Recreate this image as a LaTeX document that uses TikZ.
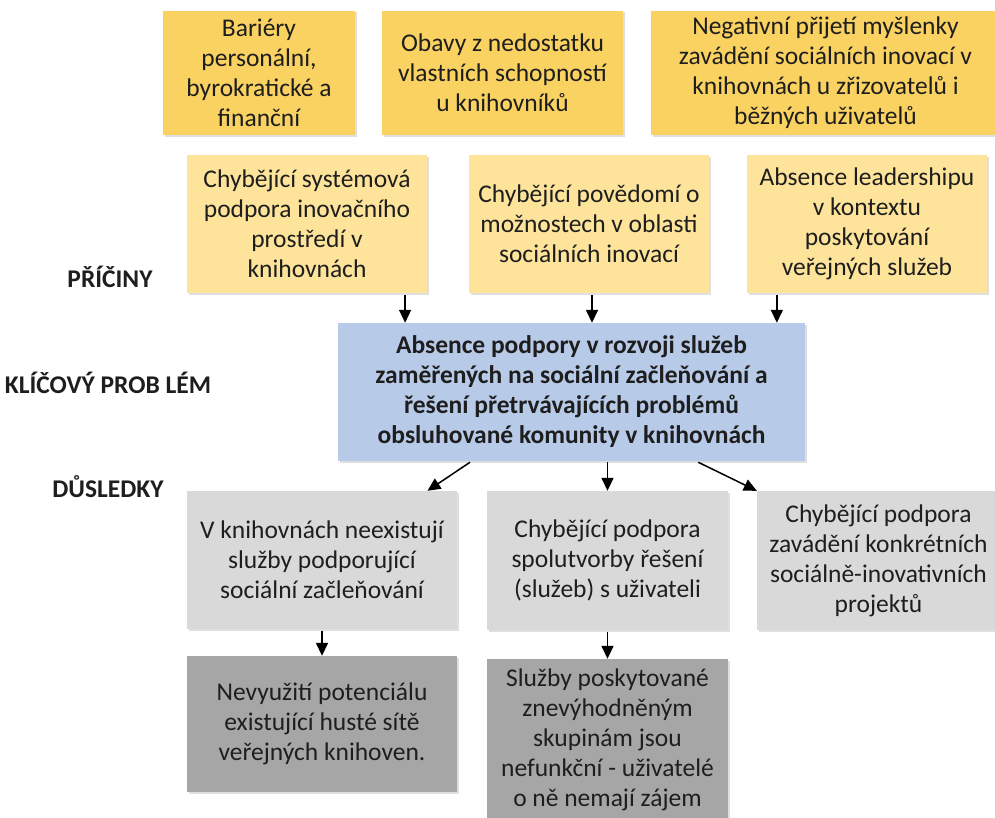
\documentclass[tikz,border=0pt]{standalone}
\usepackage{fontspec}
\setmainfont{Carlito}
\usetikzlibrary{arrows.meta,calc,shadows}
\definecolor{gold}{HTML}{FAD261}
\definecolor{lgold}{HTML}{FEE49A}
\definecolor{lblue}{HTML}{B7CAE8}
\definecolor{lgray}{HTML}{D9D9D9}
\definecolor{dgray}{HTML}{A6A6A6}
\definecolor{txt}{HTML}{1E1E1E}
\tikzset{
  box/.style={rectangle, inner sep=0pt, align=center, text=txt,
    font=\fontsize{25.5bp}{30bp}\selectfont,
    drop shadow={opacity=0.25, shadow xshift=1.5bp, shadow yshift=-1.5bp}},
  lbl/.style={font=\fontsize{25.5bp}{30bp}\selectfont\bfseries, text=txt, inner sep=0pt},
  arr/.style={-{Triangle[width=12bp,length=13bp]}, line width=1.5bp, draw=black},
}
\newcommand{\bx}[8]{% name, style, x1, y1, x2, y2, fill, text
  \node[box, fill=#7, minimum width={(#5-#3)*1bp}, minimum height={(#6-#4)*1bp}, #2]
    (#1) at ({(#3+#5)/2},{-(#4+#6)/2}) {#8};}
\begin{document}
\begin{tikzpicture}[x=1bp,y=1bp]
\useasboundingbox (0,0) rectangle (995,-818);
\clip (0,0) rectangle (995,-818);
\fill[white] (0,0) rectangle (995,-818);
% top row
\bx{b1}{}{163}{11}{355}{135}{gold}{Bariéry\\personální,\\byrokratické a\\finanční}
\bx{b2}{}{382}{11}{623}{135}{gold}{Obavy z nedostatku\\vlastních schopností\\u knihovníků}
\bx{b3}{}{651}{11}{1000}{135}{gold}{Negativní přijetí myšlenky\\zavádění sociálních inovací v\\knihovnách u zřizovatelů i\\běžných uživatelů}
% second row
\bx{c1}{}{187}{155}{427}{293}{lgold}{Chybějící systémová\\podpora inovačního\\prostředí v\\knihovnách}
\bx{c2}{}{469}{155}{709}{293}{lgold}{Chybějící povědomí o\\možnostech v oblasti\\sociálních inovací}
\bx{c3}{}{747}{155}{987}{293}{lgold}{Absence leadershipu\\v kontextu\\poskytování\\veřejných služeb}
% key problem
\bx{kp}{font=\fontsize{25.5bp}{30bp}\selectfont\bfseries}{338}{323}{805}{461}{lblue}{Absence podpory v rozvoji služeb\\zaměřených na sociální začleňování a\\řešení přetrvávajících problémů\\obsluhované komunity v knihovnách}
% consequences
\bx{d1}{}{187}{491}{457}{629}{lgray}{V knihovnách neexistují\\služby podporující\\sociální začleňování}
\bx{d2}{}{487}{491}{728}{630}{lgray}{Chybějící podpora\\spolutvorby řešení\\(služeb) s uživateli}
\bx{d3}{}{757}{491}{1000}{630}{lgray}{Chybějící podpora\\zavádění konkrétních\\sociálně-inovativních\\projektů}
\bx{e1}{}{187}{656}{457}{792}{dgray}{Nevyužití potenciálu\\existující husté sítě\\veřejných knihoven.}
\bx{e2}{}{487}{659}{728}{820}{dgray}{Služby poskytované\\znevýhodněným\\skupinám jsou\\nefunkční - uživatelé\\o ně nemají zájem}
% side labels
\node[lbl] (l1) at (110,-277) {PŘÍČINY};
\node[lbl] (l2) at (108,-383) {KLÍČOVÝ PROB LÉM};
\node[lbl] (l3) at (108,-487) {DŮSLEDKY};
% arrows
\path ($(c1.south east)!0.092!(c1.south west)$) coordinate (a1);
\path ($(c2.south)+(3,0)$) coordinate (a2);
\path ($(c3.south west)!0.125!(c3.south east)$) coordinate (a3);
\draw[arr] ($(a1)+(0,-2)$) -- (a1 |- kp.north);
\draw[arr] ($(a2)+(0,-2)$) -- (a2 |- kp.north);
\draw[arr] ($(a3)+(0,-2)$) -- (a3 |- kp.north);
\path ($(kp.south west)!0.283!(kp.south east)$) coordinate (s1);
\path ($(kp.south west)!0.771!(kp.south east)$) coordinate (s3);
\path ($(d1.north east)!0.11!(d1.north west)$) coordinate (t1);
\draw[arr] ($(s1)+(0,-1)$) -- (t1);
\draw[arr] ($(kp.south -| d2.north)+(0,-1)$) -- (d2.north);
\draw[arr] ($(s3)+(0,-1)$) -- (d3.north west);
\draw[arr] ($(d1.south)+(0,-2)$) -- (d1.south |- e1.north);
\draw[arr] ($(d2.south)+(0,-2)$) -- (e2.north);
\end{tikzpicture}
\end{document}
